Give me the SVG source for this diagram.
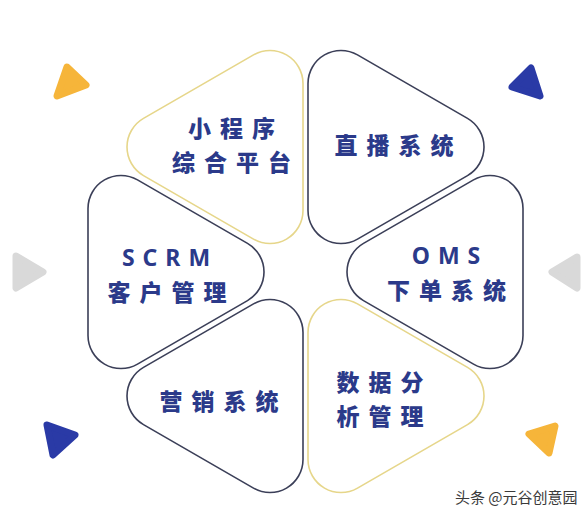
<svg xmlns="http://www.w3.org/2000/svg" xmlns:xlink="http://www.w3.org/1999/xlink" width="588" height="512" viewBox="0 0 588 512">
<style>
.tri{fill:#ffffff;stroke-width:1.6}
.dark{stroke:#3b3f58}
.gold{stroke:#e6d68a}
.lbl{font-family:"Noto Sans CJK SC","Noto Sans",sans-serif;font-weight:900;font-size:23px;fill:#2b3a8a;letter-spacing:9px;text-anchor:middle}
.lat{font-family:"Noto Sans","Liberation Sans",sans-serif;font-weight:bold;font-size:23px;letter-spacing:8px}
.deco{stroke-linejoin:round;stroke-width:7}
.wm{font-family:"Noto Sans CJK SC",sans-serif;font-size:15px;fill:#3a3a3a}
</style>
<defs>
<path id="rt" d="M0,-63.5 L0,63.5 A33,33 0 0 1 -49.5,92.08 L-159.5,28.58 A33,33 0 0 1 -159.5,-28.58 L-49.5,-92.08 A33,33 0 0 1 0,-63.5 Z"/>
</defs>
<rect width="588" height="512" fill="#ffffff"/>
<g id="decorations">
<polygon class="deco" points="57,96 67,67 86,85" fill="#f6b53a" stroke="#f6b53a"/>
<polygon class="deco" points="512,87 531,68 540,96" fill="#2a3aa6" stroke="#2a3aa6"/>
<polygon class="deco" points="16,256 43,272 16,288" fill="#d9d9d9" stroke="#d9d9d9"/>
<polygon class="deco" points="577,257 552,272 577,288" fill="#d9d9d9" stroke="#d9d9d9"/>
<polygon class="deco" points="47,425 75,435 53,455" fill="#2a3aa6" stroke="#2a3aa6"/>
<polygon class="deco" points="529,434 555,426 549,453" fill="#f6b53a" stroke="#f6b53a"/>
</g>
<g id="connectors"></g>
<g id="node-miniprogram">
<use xlink:href="#rt" href="#rt" class="tri gold" transform="translate(303,147)"/>
<text class="lbl" x="236" y="136.5">小程序</text>
<text class="lbl" x="236" y="170.5">综合平台</text>
</g>
<g id="node-live">
<use xlink:href="#rt" href="#rt" class="tri dark" transform="translate(308,147) scale(-1,1)"/>
<text class="lbl" x="398.5" y="153.5">直播系统</text>
</g>
<g id="node-scrm">
<use xlink:href="#rt" href="#rt" class="tri dark" transform="translate(88,272) scale(-1,1)"/>
<text class="lbl lat" x="170" y="266">SCRM</text>
<text class="lbl" x="171.5" y="301">客户管理</text>
</g>
<g id="node-oms">
<use xlink:href="#rt" href="#rt" class="tri dark" transform="translate(523,272)"/>
<text class="lbl lat" x="450" y="264">OMS</text>
<text class="lbl" x="451" y="298.5">下单系统</text>
</g>
<g id="node-marketing">
<use xlink:href="#rt" href="#rt" class="tri dark" transform="translate(303,396)"/>
<text class="lbl" x="223.5" y="409.5">营销系统</text>
</g>
<g id="node-analytics">
<use xlink:href="#rt" href="#rt" class="tri gold" transform="translate(308,396) scale(-1,1)"/>
<text class="lbl" x="384.5" y="391">数据分</text>
<text class="lbl" x="384.5" y="425">析管理</text>
</g>
<text class="wm" x="455" y="503">头条 @元谷创意园</text>
</svg>
